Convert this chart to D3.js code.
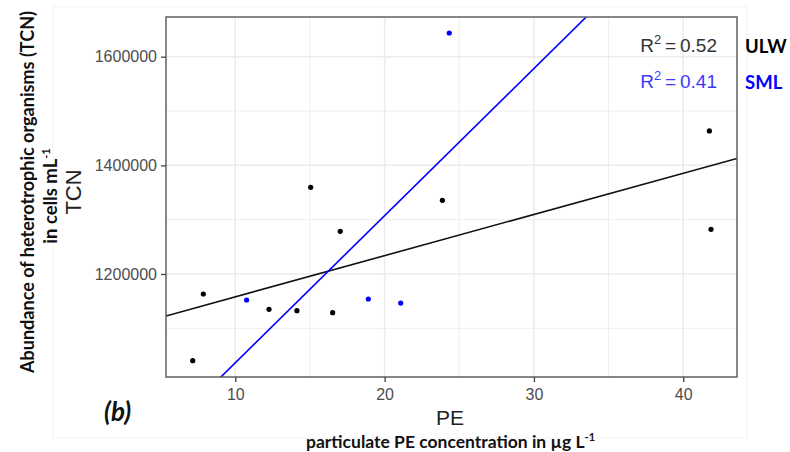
<!DOCTYPE html>
<html>
<head>
<meta charset="utf-8">
<script src="https://cdn.jsdelivr.net/npm/d3@7"></script>
<style>
  body { margin: 0; background: #fff; }
  svg { display: block; }
</style>
</head>
<body>
<svg width="790" height="452"></svg>
<script>
// valeurs
const ulwPE  = [7.15, 7.86, 12.26, 14.13, 15.05, 16.52, 17.03, 23.87, 41.75, 41.86];
const ulwTCN = [1040500, 1163200, 1135000, 1132500, 1359500, 1128800, 1278500, 1335600, 1463300, 1282200];
const smlPE  = [10.76, 18.91, 21.08, 24.33];
const smlTCN = [1152200, 1154000, 1146600, 1643600];

const xTicks = [10, 20, 30, 40];
const xMinor = [15, 25, 35];
const yTicks = [1200000, 1400000, 1600000];
const yMinor = [1100000, 1300000, 1500000];

const r2Labels = ["0.52", "0.41"];
const groups = ["ULW", "SML"];

const svg = d3.select("svg");
const pLeft = 166, pRight = 737, pTop = 17, pBottom = 377;

const x = d3.scaleLinear().domain([5.36, 43.6]).range([pLeft, pRight]);
const y = d3.scaleLinear().domain([1010500, 1673000]).range([pBottom, pTop]);

// cadre très pâle de l'image
svg.append("rect")
    .attr("x", 53).attr("y", 7).attr("width", 694).attr("height", 431)
    .attr("fill", "none").attr("stroke", "#f3f3f3");

svg.append("defs").append("clipPath").attr("id", "panel")
    .append("rect").attr("x", pLeft).attr("y", pTop)
    .attr("width", pRight - pLeft).attr("height", pBottom - pTop);

// grille
const grid = svg.append("g");
grid.selectAll(".vmin").data(xMinor).enter().append("line")
    .attr("x1", d => x(d)).attr("x2", d => x(d)).attr("y1", pTop).attr("y2", pBottom)
    .attr("stroke", "#eeeeee").attr("stroke-width", 1);
grid.selectAll(".hmin").data(yMinor).enter().append("line")
    .attr("y1", d => y(d)).attr("y2", d => y(d)).attr("x1", pLeft).attr("x2", pRight)
    .attr("stroke", "#eeeeee").attr("stroke-width", 1);
grid.selectAll(".vmaj").data(xTicks).enter().append("line")
    .attr("x1", d => x(d)).attr("x2", d => x(d)).attr("y1", pTop).attr("y2", pBottom)
    .attr("stroke", "#ebebeb").attr("stroke-width", 1.5);
grid.selectAll(".hmaj").data(yTicks).enter().append("line")
    .attr("y1", d => y(d)).attr("y2", d => y(d)).attr("x1", pLeft).attr("x2", pRight)
    .attr("stroke", "#ebebeb").attr("stroke-width", 1.5);

// droites de régression (moindres carrés)
const fit = (xs, ys) => {
    const mx = d3.mean(xs), my = d3.mean(ys);
    const sxy = d3.sum(xs, (v, i) => (v - mx) * (ys[i] - my));
    const sxx = d3.sum(xs, v => (v - mx) * (v - mx));
    const b = sxy / sxx;
    return { a: my - b * mx, b: b };
};

const lineGen = d3.line().x(d => x(d[0])).y(d => y(d[1]));
const drawFit = (xs, ys, color) => {
    const f = fit(xs, ys);
    const dom = x.domain();
    svg.append("path")
        .attr("clip-path", "url(#panel)")
        .attr("d", lineGen(dom.map(v => [v, f.a + f.b * v])))
        .attr("fill", "none").attr("stroke", color).attr("stroke-width", 1.6);
};
drawFit(ulwPE, ulwTCN, "#111");
drawFit(smlPE, smlTCN, "#0000ff");

// points
svg.append("g").selectAll("circle").data(d3.zip(ulwPE, ulwTCN)).enter().append("circle")
    .attr("cx", d => x(d[0])).attr("cy", d => y(d[1])).attr("r", 2.6).attr("fill", "#000");
svg.append("g").selectAll("circle").data(d3.zip(smlPE, smlTCN)).enter().append("circle")
    .attr("cx", d => x(d[0])).attr("cy", d => y(d[1])).attr("r", 2.6).attr("fill", "#0000ff");

// bordure du panneau
svg.append("rect")
    .attr("x", pLeft).attr("y", pTop).attr("width", pRight - pLeft).attr("height", pBottom - pTop)
    .attr("fill", "none").attr("stroke", "#555").attr("stroke-width", 1.4);

// axes
const xAxis = svg.append("g").attr("transform", `translate(0,${pBottom})`)
    .call(d3.axisBottom(x).tickValues(xTicks).tickSize(5).tickPadding(4).tickFormat(d3.format("d")));
const yAxis = svg.append("g").attr("transform", `translate(${pLeft},0)`)
    .call(d3.axisLeft(y).tickValues(yTicks).tickSize(5).tickPadding(4).tickFormat(d3.format("d")));

[xAxis, yAxis].forEach(ax => {
    ax.select(".domain").remove();
    ax.selectAll(".tick line").attr("stroke", "#444").attr("stroke-width", 1.3);
    ax.selectAll(".tick text")
        .attr("fill", "#4d4d4d")
        .style("font-family", "Liberation Sans, Arial, sans-serif")
        .style("font-size", "16px");
});
xAxis.selectAll(".tick text").attr("dy", "0.85em");

// titres ggplot
svg.append("text")
    .attr("x", 450).attr("y", 425).attr("text-anchor", "middle")
    .style("font-family", "Liberation Sans, Arial, sans-serif").style("font-size", "21px")
    .attr("fill", "#222").text("PE");
svg.append("text")
    .attr("transform", "translate(81,192) rotate(-90)").attr("text-anchor", "middle")
    .style("font-family", "Liberation Sans, Arial, sans-serif").style("font-size", "22px")
    .attr("fill", "#222").text("TCN");

// R²
const r2Colors = ["#333", "#3a3aff"];
const r2Y = [52, 88];
r2Labels.forEach((v, i) => {
    const t = svg.append("text")
        .attr("x", 717).attr("y", r2Y[i]).attr("text-anchor", "end")
        .style("font-family", "Liberation Sans, Arial, sans-serif").style("font-size", "19px")
        .attr("fill", r2Colors[i]);
    t.append("tspan").text("R");
    t.append("tspan").attr("dy", -8).style("font-size", "13px").text("2");
    t.append("tspan").attr("dy", 8).text("\u2009=\u2009" + v);
});

// légende ULW / SML
const legColors = ["#000", "#0000ff"];
groups.forEach((g, i) => {
    svg.append("text")
        .attr("x", 745).attr("y", r2Y[i] + 1)
        .style("font-family", "Lato, Open Sans, sans-serif").style("font-weight", "bold")
        .style("font-size", "18.5px").attr("fill", legColors[i]).text(g);
});

// annotations en gras
const yl = svg.append("text")
    .attr("transform", "translate(34,192) rotate(-90)").attr("text-anchor", "middle")
    .style("font-family", "Lato, Open Sans, sans-serif").style("font-weight", "bold")
    .style("font-size", "18.5px").attr("fill", "#111");
yl.text("Abundance of heterotrophic organisms (TCN)")
    .attr("textLength", 362).attr("lengthAdjust", "spacingAndGlyphs");

const yl2 = svg.append("text")
    .attr("transform", "translate(57,196) rotate(-90)").attr("text-anchor", "middle")
    .style("font-family", "Lato, Open Sans, sans-serif").style("font-weight", "bold")
    .style("font-size", "18.5px").attr("fill", "#111");
yl2.append("tspan").text("in cells mL");
yl2.append("tspan").attr("dy", -7).style("font-size", "11px").text("-1");

const xl = svg.append("text")
    .attr("x", 306).attr("y", 448)
    .style("font-family", "Lato, Open Sans, sans-serif").style("font-weight", "bold")
    .style("font-size", "17.5px").attr("fill", "#111");
xl.append("tspan").text("particulate PE concentration in µg L");
xl.append("tspan").attr("dy", -7).style("font-size", "11px").text("-1");

svg.append("text")
    .attr("x", 104).attr("y", 421)
    .style("font-family", "Lato, Open Sans, sans-serif").style("font-weight", "bold")
    .style("font-style", "italic").style("font-size", "26px").attr("fill", "#111")
    .text("(b)");
</script>
</body>
</html>
